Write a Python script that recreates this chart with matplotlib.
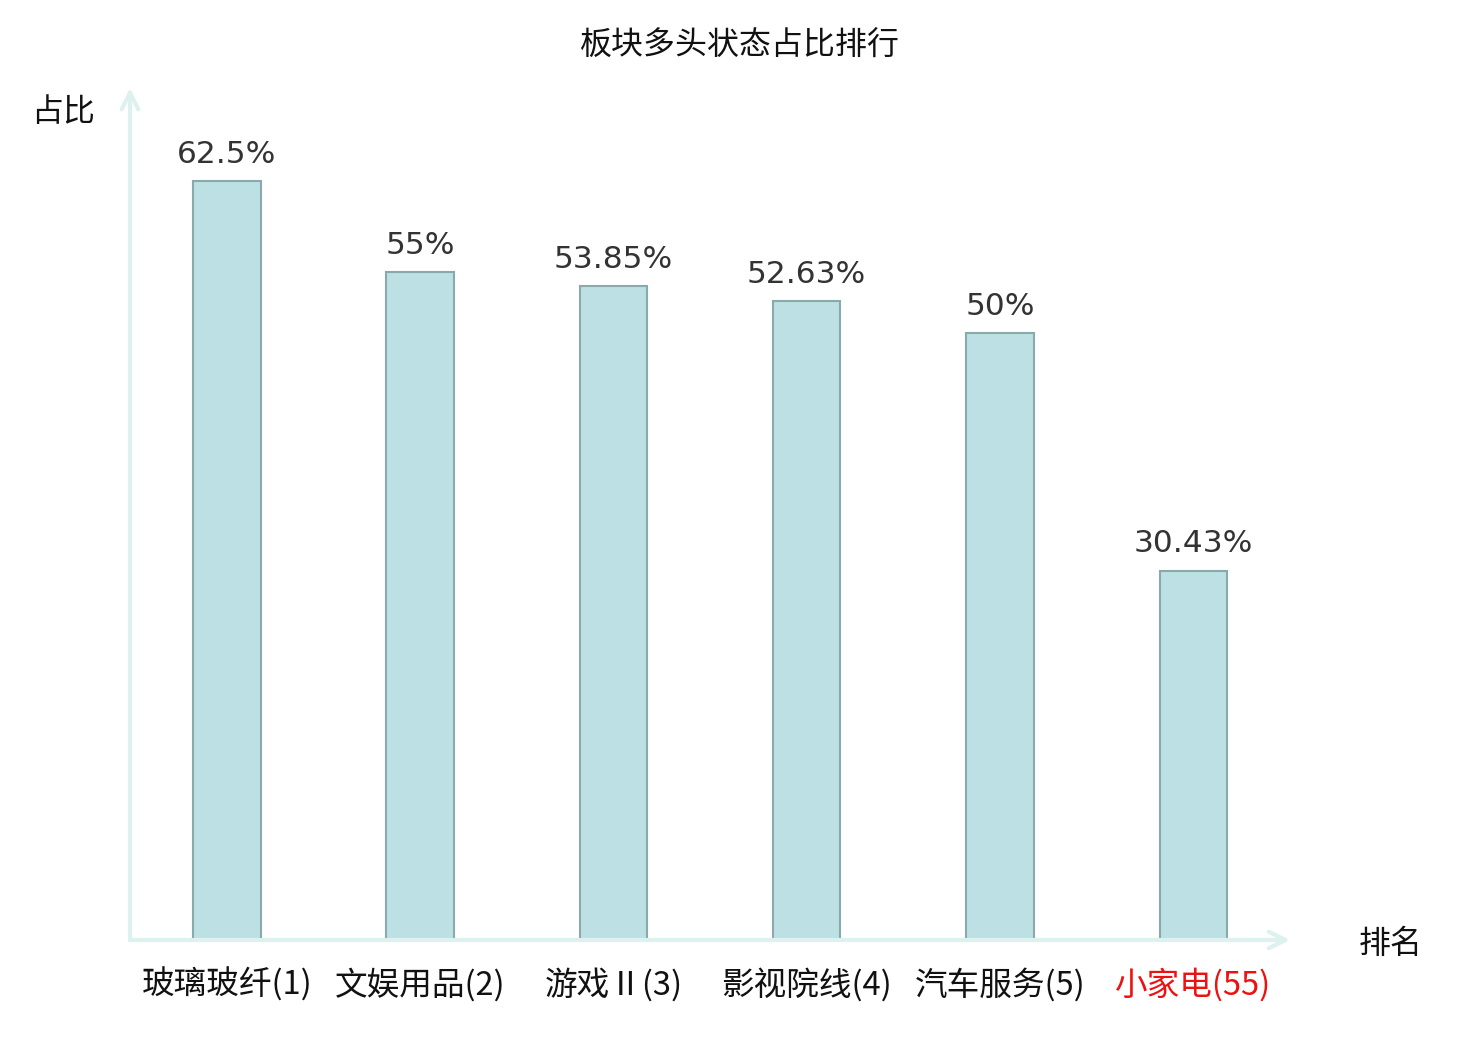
import matplotlib
matplotlib.use("Agg")
import matplotlib.pyplot as plt

categories = ["玻璃玻纤(1)", "文娱用品(2)", "游戏Ⅱ(3)", "影视院线(4)", "汽车服务(5)", "小家电(55)"]
values = [62.5, 55, 53.85, 52.63, 50, 30.43]
value_labels = ["62.5%", "55%", "53.85%", "52.63%", "50%", "30.43%"]
label_colors = ["#111111", "#111111", "#111111", "#111111", "#111111", "#EE1111"]
title = "板块多头状态占比排行"
ylabel = "占比"
xlabel = "排名"

plt.rcParams['font.family'] = ['Noto Sans CJK SC', 'DejaVu Sans']

fig = plt.figure(figsize=(14.8, 10.4), dpi=100)
ax = fig.add_axes([130/1480, 1-940/1040, 1160/1480, 852/1040])

x = list(range(len(categories)))
bars = ax.bar(x, values, width=0.35, color="#BCE0E3", edgecolor="#8AA9AA", linewidth=1.5, zorder=3)
ax.set_xlim(-0.5, len(categories) - 0.5)
ax.set_ylim(0, 70.2)

for xi, v, lab in zip(x, values, value_labels):
    ax.annotate(lab, (xi, v), xytext=(0, 9), textcoords="offset points",
                ha="center", va="bottom", fontsize=22.5, color="#333333",
                family=['DejaVu Sans'])

for s in ax.spines.values():
    s.set_visible(False)
ax.set_yticks([])
ax.set_xticks(x)
ax.set_xticklabels(categories, fontsize=23.5)
ax.tick_params(axis='x', length=0, pad=20)
for t, c in zip(ax.get_xticklabels(), label_colors):
    t.set_color(c)

axis_color = "#DDF1EF"
ax.annotate("", xy=(0, 1), xycoords="axes fraction", xytext=(0, 0),
            arrowprops=dict(arrowstyle="->", color=axis_color, lw=3, mutation_scale=30,
                            shrinkA=0, shrinkB=0), annotation_clip=False)
ax.annotate("", xy=(1, 0), xycoords="axes fraction", xytext=(0, 0),
            arrowprops=dict(arrowstyle="->", color=axis_color, lw=3, mutation_scale=30,
                            shrinkA=0, shrinkB=0), annotation_clip=False)

fig.text(740/1480, 1-46/1040, title, ha="center", va="center", fontsize=23, color="#111111")
fig.text(63/1480, 1-112/1040, ylabel, ha="center", va="center", fontsize=23, color="#111111")
fig.text(1391/1480, 1-944/1040, xlabel, ha="center", va="center", fontsize=23, color="#111111")

fig.savefig("out.png", dpi=100, facecolor="white")
